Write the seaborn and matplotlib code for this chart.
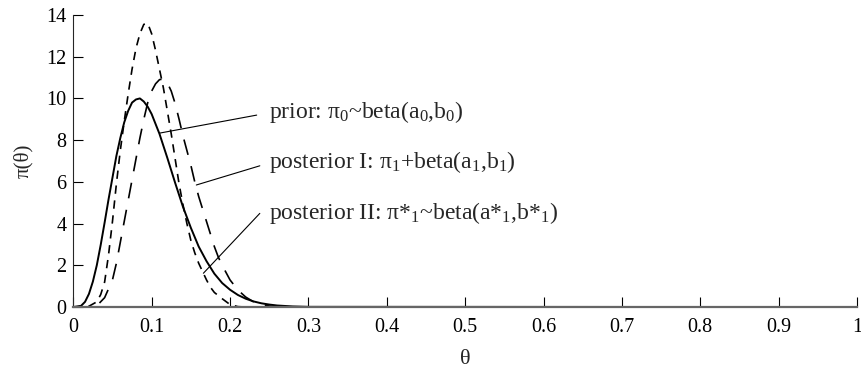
import numpy as np
import pandas as pd
import seaborn as sns
import matplotlib.pyplot as plt
import matplotlib.ticker as mticker

# curve samples
prior_theta = [0, 0.01, 0.015, 0.02, 0.025, 0.03, 0.035, 0.04, 0.045, 0.05, 0.055, 0.06,
               0.065, 0.07, 0.075, 0.08, 0.085, 0.09, 0.095, 0.10, 0.11, 0.12, 0.13, 0.14,
               0.15, 0.16, 0.17, 0.18, 0.19, 0.20, 0.21, 0.22, 0.23, 0.24, 0.25, 0.26,
               0.28, 0.30, 1.0]
prior_pi = [0, 0.06, 0.25, 0.63, 1.22, 2.0, 2.98, 4.05, 5.16, 6.2, 7.24, 8.1,
            8.85, 9.4, 9.8, 9.95, 10.0, 9.85, 9.6, 9.25, 8.3, 7.15, 5.95, 4.8,
            3.8, 2.9, 2.2, 1.6, 1.15, 0.83, 0.58, 0.4, 0.27, 0.18, 0.12, 0.075,
            0.03, 0.01, 0]

post1_theta = [0, 0.02, 0.03, 0.04, 0.05, 0.055, 0.06, 0.065, 0.07, 0.075, 0.08, 0.085,
               0.09, 0.095, 0.10, 0.105, 0.11, 0.115, 0.12, 0.125, 0.13, 0.135, 0.14,
               0.145, 0.15, 0.155, 0.16, 0.165, 0.17, 0.175, 0.18, 0.185, 0.19, 0.20,
               0.21, 0.22, 0.23, 0.24, 0.25, 0.26, 0.28, 1.0]
post1_pi = [0, 0, 0.06, 0.45, 1.3, 2.1, 3.1, 4.1, 5.1, 6.1, 7.1, 8.1,
            9.0, 9.8, 10.35, 10.7, 10.9, 10.93, 10.75, 10.35, 9.75, 9.0, 8.2,
            7.5, 6.8, 6.0, 5.3, 4.7, 4.1, 3.5, 2.9, 2.4, 2.0, 1.3,
            0.82, 0.48, 0.25, 0.12, 0.05, 0.02, 0, 0]

post2_theta = [0, 0.02, 0.03, 0.035, 0.04, 0.045, 0.05, 0.055, 0.06, 0.065, 0.07, 0.075,
               0.08, 0.085, 0.09, 0.095, 0.10, 0.105, 0.11, 0.115, 0.12, 0.125, 0.13,
               0.135, 0.14, 0.145, 0.15, 0.155, 0.16, 0.165, 0.17, 0.175, 0.18, 0.19,
               0.20, 0.21, 0.22, 1.0]
post2_pi = [0, 0.04, 0.25, 0.6, 1.2, 2.5, 4.1, 5.9, 7.5, 8.9, 10.2, 11.4,
            12.4, 13.1, 13.55, 13.6, 13.1, 12.3, 11.4, 10.5, 9.4, 8.3, 7.1,
            5.9, 4.9, 4.0, 3.2, 2.6, 2.1, 1.7, 1.3, 0.95, 0.7, 0.4,
            0.12, 0.02, 0, 0]

x_ticks = [0, 0.1, 0.2, 0.3, 0.4, 0.5, 0.6, 0.7, 0.8, 0.9, 1.0]
x_tick_labels = ["0", "0.1", "0.2", "0.3", "0.4", "0.5", "0.6", "0.7", "0.8", "0.9", "1"]
y_ticks = [0, 2, 4, 6, 8, 10, 12, 14]

labels = ["prior: π$_0$~beta(a$_0$,b$_0$)",
          "posterior I: π$_1$+beta(a$_1$,b$_1$)",
          "posterior II: π*$_1$~beta(a*$_1$,b*$_1$)"]

sns.set_style("ticks")
plt.rcParams['font.family'] = ['Liberation Serif', 'DejaVu Serif']
plt.rcParams['mathtext.fontset'] = 'custom'
plt.rcParams['mathtext.rm'] = 'Liberation Serif'
plt.rcParams['mathtext.it'] = 'Liberation Serif:italic'

fig = plt.figure(figsize=(8.61, 3.74), dpi=100)
ax = fig.add_axes([0.0851, 0.179, 0.9103, 0.781])

df0 = pd.DataFrame({"theta": prior_theta, "pi": prior_pi})
df1 = pd.DataFrame({"theta": post1_theta, "pi": post1_pi})
df2 = pd.DataFrame({"theta": post2_theta, "pi": post2_pi})

lw = 1.2
sns.lineplot(data=df0, x="theta", y="pi", ax=ax, color="black", lw=1.4,
             estimator=None, sort=False)
sns.lineplot(data=df1, x="theta", y="pi", ax=ax, color="black", lw=lw,
             estimator=None, sort=False, linestyle=(0, (9.5, 7)))
sns.lineplot(data=df2, x="theta", y="pi", ax=ax, color="black", lw=lw,
             estimator=None, sort=False, linestyle=(0, (5, 4)))

ax.set_xlim(0, 1)
ax.set_ylim(0, 14)
ax.xaxis.set_major_locator(mticker.FixedLocator(x_ticks))
ax.xaxis.set_major_formatter(mticker.FixedFormatter(x_tick_labels))
ax.set_yticks(y_ticks)
ax.tick_params(direction="in", length=7, width=0.8, labelsize=14.5, colors="black")
ax.tick_params(axis="x", pad=8)
ax.tick_params(axis="y", pad=5)
sns.despine(ax=ax)
ax.spines["left"].set_linewidth(0.8)
ax.spines["bottom"].set_color("#666666")
ax.spines["bottom"].set_linewidth(1.6)

ax.set_xlabel("θ", fontsize=16, labelpad=9)
ax.set_ylabel("π(θ)", fontsize=15, labelpad=9)

# annotations with leader lines
ax.plot([0.1106, 0.234], [8.34, 9.2], color="black", lw=0.8)
ax.plot([0.157, 0.238], [5.85, 6.77], color="black", lw=0.8)
ax.plot([0.166, 0.238], [1.62, 4.49], color="black", lw=0.8)
ax.text(0.25, 9.35, labels[0], fontsize=17, va="center")
ax.text(0.25, 6.95, labels[1], fontsize=17, va="center")
ax.text(0.25, 4.5, labels[2], fontsize=17, va="center")

fig.savefig("out.png", dpi=100)
